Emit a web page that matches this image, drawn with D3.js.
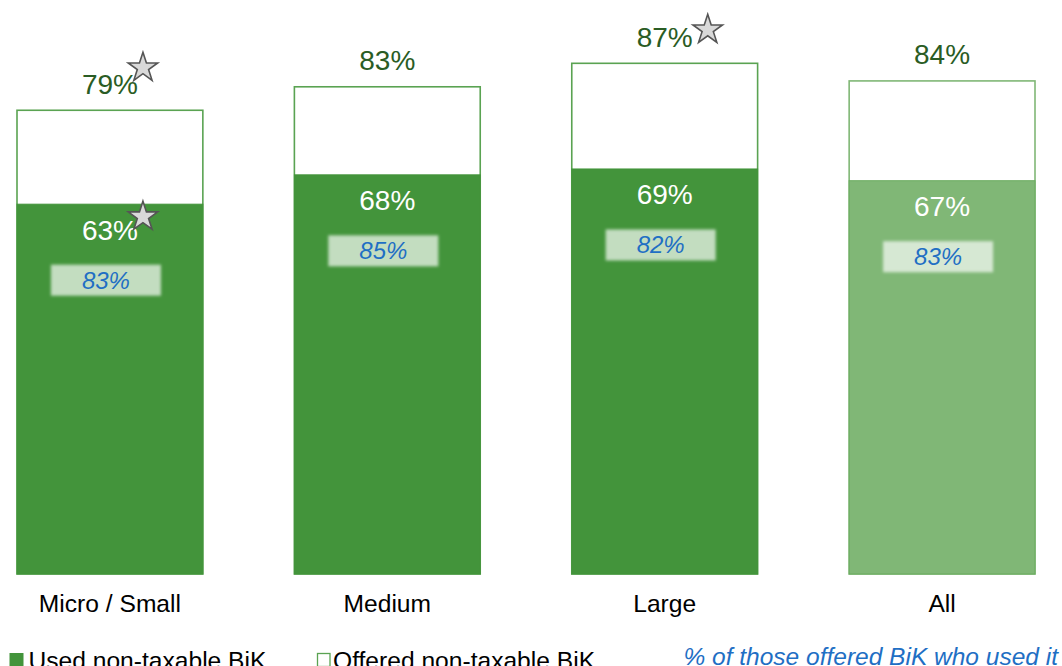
<!DOCTYPE html>
<html>
<head>
<meta charset="utf-8">
<script src="https://cdn.jsdelivr.net/npm/d3@7"></script>
<style>
  html, body { margin: 0; padding: 0; background: #fff; overflow: hidden; }
  svg { display: block; font-family: "Liberation Sans", Arial, sans-serif; }
</style>
</head>
<body>
<svg id="chart" width="1062" height="666"></svg>
<script>
// Share of businesses by size band
const categories = ["Micro / Small", "Medium", "Large", "All"];
const offered = [79, 83, 87, 84];          // offered non-taxable BiK (%)
const used = [63, 68, 69, 67];             // used non-taxable BiK (%)
const usedOfOffered = [83, 85, 82, 83];    // % of those offered BiK who used it
const offeredStar = [true, false, true, false];
const usedStar = [true, false, false, false];
const totalCategory = "All";

const legendItems = ["Used non-taxable BiK", "Offered non-taxable BiK"];
const noteText = "% of those offered BiK who used it";

const GREEN = "#43943b";
const GREEN_LIGHT = "#80b776";
const GREEN_STROKE = "#5aa352";
const LABEL_GREEN = "#2a5c24";
const BLUE = "#1f6fc4";

const svg = d3.select("#chart");

const x = d3.scaleBand()
  .domain(categories)
  .range([17, 1035])
  .paddingInner(0.33)
  .paddingOuter(0);

const y = d3.scaleLinear()
  .domain([0, 100])
  .range([574, -13]);

const rows = categories.map((c, i) => ({
  cat: c,
  offered: offered[i],
  used: used[i],
  ratio: usedOfOffered[i],
  starOffered: offeredStar[i],
  starUsed: usedStar[i],
  total: c === totalCategory
}));

// soft edge for the ratio boxes
const defs = svg.append("defs");
defs.append("filter").attr("id", "soft")
  .attr("x", "-20%").attr("y", "-40%").attr("width", "140%").attr("height", "180%")
  .append("feGaussianBlur").attr("stdDeviation", 1.6);

const g = svg.append("g");

// offered (outline) bars
g.selectAll("rect.offered").data(rows).join("rect")
  .attr("class", "offered")
  .attr("x", d => x(d.cat))
  .attr("y", d => y(d.offered))
  .attr("width", x.bandwidth())
  .attr("height", d => y(0) - y(d.offered))
  .attr("fill", "#fff")
  .attr("stroke", d => d.total ? GREEN_LIGHT : GREEN_STROKE)
  .attr("stroke-width", 1.6);

// used (filled) bars
g.selectAll("rect.used").data(rows).join("rect")
  .attr("class", "used")
  .attr("x", d => x(d.cat))
  .attr("y", d => y(d.used))
  .attr("width", x.bandwidth())
  .attr("height", d => y(0) - y(d.used))
  .attr("fill", d => d.total ? GREEN_LIGHT : GREEN)
  .attr("stroke", d => d.total ? "#6aab5f" : GREEN)
  .attr("stroke-width", 1);

const cx = d => x(d.cat) + x.bandwidth() / 2;

// offered labels above bars
const topLabels = g.selectAll("text.top").data(rows).join("text")
  .attr("class", "top")
  .attr("x", cx)
  .attr("y", d => y(d.offered) - 16.5)
  .attr("text-anchor", "middle")
  .attr("font-size", 28)
  .attr("fill", LABEL_GREEN)
  .text(d => d.offered + "%");

// used labels inside bars
const innerLabels = g.selectAll("text.inner").data(rows).join("text")
  .attr("class", "inner")
  .attr("x", cx)
  .attr("y", d => y(d.used) + 35.5)
  .attr("text-anchor", "middle")
  .attr("font-size", 28)
  .attr("fill", "#fff")
  .text(d => d.used + "%");

// ratio boxes, set slightly left of the bar centre
const boxW = 110, boxH = 31, boxShift = -4;
g.selectAll("rect.ratio").data(rows).join("rect")
  .attr("class", "ratio")
  .attr("x", d => cx(d) + boxShift - boxW / 2)
  .attr("y", d => y(d.used) + 76 - boxH / 2)
  .attr("width", boxW)
  .attr("height", boxH)
  .attr("fill", "#fff")
  .attr("fill-opacity", 0.68)
  .attr("filter", "url(#soft)");

g.selectAll("text.ratio").data(rows).join("text")
  .attr("class", "ratio")
  .attr("x", d => cx(d) + boxShift)
  .attr("y", d => y(d.used) + 84.5)
  .attr("text-anchor", "middle")
  .attr("font-size", 24)
  .attr("font-style", "italic")
  .attr("fill", BLUE)
  .text(d => d.ratio + "%");

// significance stars, placed just after the label they mark
const star = d3.symbol().type(d3.symbolStar).size(270);
const starNudge = {
  "top|Micro / Small": [5, -27],
  "top|Large": [15, -18],
  "inner|Micro / Small": [5, -24]
};
function addStars(sel, flag, kind) {
  sel.each(function (d) {
    if (!d[flag]) return;
    const bb = this.getBBox();
    const baseline = +this.getAttribute("y");
    const [dx, dy] = starNudge[kind + "|" + d.cat] || [8, -24];
    g.append("path")
      .attr("d", star())
      .attr("transform", `translate(${bb.x + bb.width + dx},${baseline + dy + 1})`)
      .attr("fill", "#d9d9d9")
      .attr("stroke", "#555")
      .attr("stroke-width", 1.6)
      .attr("stroke-linejoin", "miter");
  });
}
addStars(topLabels, "starOffered", "top");
addStars(innerLabels, "starUsed", "inner");

// category axis labels
g.selectAll("text.cat").data(rows).join("text")
  .attr("class", "cat")
  .attr("x", cx)
  .attr("y", 611.5)
  .attr("text-anchor", "middle")
  .attr("font-size", 24.6)
  .attr("fill", "#000")
  .text(d => d.cat);

// legend
const legend = svg.append("g");
legend.append("rect")
  .attr("x", 9.5).attr("y", 653).attr("width", 14).attr("height", 14)
  .attr("fill", GREEN);
legend.append("text")
  .attr("x", 28.5).attr("y", 669)
  .attr("font-size", 24.6).attr("fill", "#000")
  .text(legendItems[0]);
legend.append("rect")
  .attr("x", 317.5).attr("y", 653.5).attr("width", 12.5).attr("height", 13)
  .attr("fill", "#fff").attr("stroke", GREEN_STROKE).attr("stroke-width", 1.3);
legend.append("text")
  .attr("x", 333).attr("y", 669)
  .attr("font-size", 24.6).attr("fill", "#000")
  .text(legendItems[1]);
legend.append("text")
  .attr("x", 1058).attr("y", 665)
  .attr("text-anchor", "end")
  .attr("font-size", 24.5).attr("font-style", "italic")
  .attr("fill", BLUE)
  .text(noteText);
</script>
</body>
</html>
